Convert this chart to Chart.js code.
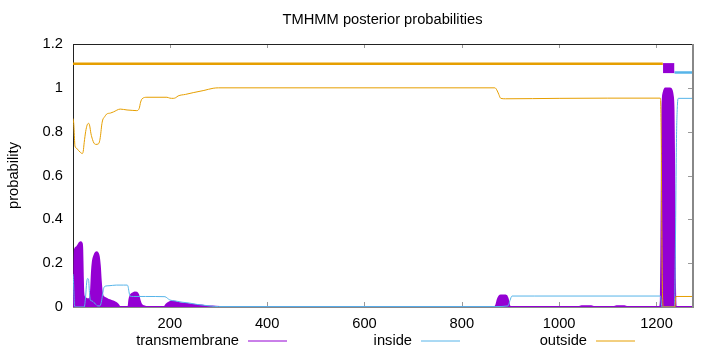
<!DOCTYPE html>
<html><head><meta charset="utf-8">
<script src="https://cdn.jsdelivr.net/npm/chart.js@4"></script>
<style>html,body{margin:0;padding:0;background:#fff}</style>
</head><body><canvas id="c" width="720" height="352"></canvas>
<script>
const titleText = 'TMHMM posterior probabilities';
const yAxisTitle = 'probability';
const seqLength = 1273;
const xTickValues = [200, 400, 600, 800, 1000, 1200];
const yTickValues = [0, 0.2, 0.4, 0.6, 0.8, 1, 1.2];
const seriesNames = ['transmembrane', 'inside', 'outside'];
const seriesColors = ['#9400d3', '#56b4e9', '#e69f00'];

// transmembrane posterior probability
const tmPos = [1,3,4,5,8,12,15,17,19,20,21,22,24,27,30,33,36,38,40,42,45,48,50,52,54,56,58,60,62,66,72,80,88,93,97,
  115,117,120,124,128,132,135,138,141,146,152,
  189,193,198,204,210,218,228,242,258,272,288,310,
  868,871,874,877,880,890,894,897,899,
  1040,1046,1066,1072,1112,1118,1134,1140,
  1207,1209,1210,1211,1212,1213,1215,1218,1228,1231,1233,1235,1236,1237,1238,1240,1273];
const tmProb = [0,0.02,0.2,0.262,0.272,0.283,0.293,0.295,0.29,0.26,0.15,0.07,0.045,0.04,0.035,0.035,0.04,0.07,0.16,0.21,0.235,0.248,0.25,0.245,0.23,0.19,0.12,0.07,0.05,0.042,0.035,0.028,0.02,0.012,0,
  0,0.035,0.055,0.062,0.066,0.065,0.055,0.03,0.012,0.004,0,
  0,0.012,0.02,0.025,0.024,0.018,0.015,0.012,0.008,0.004,0.002,0,
  0,0.01,0.035,0.048,0.052,0.052,0.04,0.01,0,
  0,0.003,0.003,0,0,0.003,0.003,0,
  0,0.03,0.25,0.6,0.88,0.95,0.98,0.997,0.997,0.99,0.97,0.9,0.7,0.4,0.1,0,0];

// inside posterior probability
const inPos = [1,2,3,4,6,24,27,29,31,33,35,37,40,44,48,52,56,59,62,64,67,75,90,105,112,114,116,118,125,150,190,195,200,210,225,240,255,270,285,300,
  870,895,899,903,950,1208,1210,1211,1237,1239,1241,1243,1245,1273];
const inProb = [0.15,0.12,0.06,0.01,0,0,0.05,0.11,0.13,0.125,0.06,0.03,0.028,0.02,0.012,0.005,0.005,0.02,0.06,0.085,0.095,0.097,0.1,0.1,0.1,0.095,0.07,0.05,0.048,0.048,0.047,0.04,0.032,0.028,0.022,0.018,0.012,0.008,0.004,0.002,
  0.002,0.005,0.03,0.05,0.05,0.05,0.02,0,0,0.3,0.75,0.92,0.952,0.952];

// outside posterior probability
const outPos = [1,2,3,4,5,8,12,16,20,22,24,27,30,33,35,38,41,44,48,53,56,58,60,62,66,70,78,84,98,112,124,132,137,140,143,153,194,200,207,212,217,232,248,270,289,300,
  868,872,876,880,890,1000,1100,1208,1209,1210,1211,1212,1213,1214,1238,1239,1240,1273];
const outProb = [0.86,0.85,0.82,0.77,0.735,0.725,0.715,0.706,0.70,0.71,0.75,0.80,0.83,0.838,0.83,0.79,0.765,0.748,0.742,0.744,0.76,0.79,0.83,0.853,0.868,0.88,0.885,0.89,0.903,0.899,0.897,0.896,0.906,0.935,0.95,0.957,0.957,0.953,0.952,0.955,0.963,0.97,0.978,0.988,0.998,1.0,
  1.0,0.99,0.97,0.952,0.95,0.952,0.953,0.953,0.9,0.7,0.35,0.1,0.02,0,0,0.03,0.048,0.048];

// predicted topology: [start, end] segments and their drawing levels
const topoOutside = [1, 1213];
const topoTM = [1214, 1236];
const topoInside = [1237, 1273];
const topoLevels = [1.11, 1.09, 1.07];

const FONT = '"Liberation Sans", Arial, Helvetica, sans-serif';
const FSIZE = 14.7;
Chart.defaults.font.family = FONT;
Chart.defaults.font.size = FSIZE;
Chart.defaults.color = '#000';

const pts = (xs, ys) => xs.map((x, i) => ({x: x, y: ys[i]}));
const seg = (s, lvl, pad) => [{x: s[0] - pad, y: lvl}, {x: s[1] + pad, y: lvl}];

const deco = {
  id: 'deco',
  beforeDatasetsDraw(chart) {
    const {ctx, chartArea: a, scales} = chart;
    ctx.save();
    ctx.strokeStyle = '#999';
    ctx.lineWidth = 1;
    ctx.beginPath();
    xTickValues.forEach(v => {
      const px = Math.round(scales.x.getPixelForValue(v)) + 0.5;
      ctx.moveTo(px, a.bottom - 5); ctx.lineTo(px, a.bottom);
      ctx.moveTo(px, a.top); ctx.lineTo(px, a.top + 4);
    });
    yTickValues.forEach(v => {
      const py = Math.round(scales.y.getPixelForValue(v)) + 0.5;
      ctx.moveTo(a.right - 4, py); ctx.lineTo(a.right, py);
    });
    ctx.stroke();
    ctx.fillStyle = '#222';
    ctx.fillRect(a.left, a.top, 1, a.bottom - a.top);
    ctx.fillRect(a.left, a.top, a.right - a.left, 1);
    ctx.fillStyle = '#888';
    ctx.fillRect(a.right, a.top, 2, a.bottom - a.top + 1);
    ctx.fillRect(a.left, a.bottom - 1, a.right - a.left + 2, 2);
    ctx.restore();
  },
  afterDraw(chart) {
    const {ctx, chartArea: a} = chart;
    ctx.save();
    ctx.font = FSIZE + 'px ' + FONT;
    ctx.fillStyle = '#000';
    ctx.textBaseline = 'middle';
    ctx.textAlign = 'center';
    ctx.fillText(titleText, (a.left + a.right) / 2, 20);
    const legendTextRight = [239, 412, 587];
    const ly = 341;
    seriesNames.forEach((n, i) => {
      ctx.textAlign = 'right';
      ctx.fillStyle = '#000';
      ctx.fillText(n, legendTextRight[i], ly);
      ctx.strokeStyle = seriesColors[i];
      ctx.lineWidth = 1;
      ctx.beginPath();
      ctx.moveTo(legendTextRight[i] + 9, ly);
      ctx.lineTo(legendTextRight[i] + 48, ly);
      ctx.stroke();
    });
    ctx.restore();
  }
};

new Chart(document.getElementById('c'), {
  type: 'line',
  data: {
    datasets: [
      {label: 'outside top', data: seg(topoOutside, topoLevels[0], 0), borderColor: seriesColors[2], borderWidth: 2.5, borderCapStyle: 'butt', order: 0},
      {label: 'TM box', data: seg(topoTM, topoLevels[1], 0.5), borderColor: seriesColors[0], borderWidth: 10, borderCapStyle: 'butt', order: 0},
      {label: 'inside top', data: seg(topoInside, topoLevels[2], 0), borderColor: seriesColors[1], borderWidth: 2.5, borderCapStyle: 'butt', order: 0},
      {label: seriesNames[2], data: pts(outPos, outProb), borderColor: seriesColors[2], borderWidth: 1, cubicInterpolationMode: 'monotone', order: 1},
      {label: seriesNames[1], data: pts(inPos, inProb), borderColor: seriesColors[1], borderWidth: 1, cubicInterpolationMode: 'monotone', order: 2},
      {label: seriesNames[0], data: pts(tmPos, tmProb), borderColor: seriesColors[0], backgroundColor: seriesColors[0], borderWidth: 2, borderJoinStyle: 'round', fill: 'origin', cubicInterpolationMode: 'monotone', order: 3}
    ]
  },
  options: {
    responsive: false,
    devicePixelRatio: 1,
    animation: false,
    events: [],
    elements: {point: {radius: 0}},
    layout: {padding: {top: 44, right: 28, bottom: 0, left: 0}},
    plugins: {legend: {display: false}, title: {display: false}, tooltip: {enabled: false}},
    scales: {
      x: {
        type: 'linear', min: 1, max: seqLength,
        afterBuildTicks: s => { s.ticks = xTickValues.map(v => ({value: v})); },
        afterFit: s => { s.height = 45; },
        grid: {display: false, drawTicks: false},
        border: {display: false},
        ticks: {padding: 8, maxRotation: 0, autoSkip: false, color: '#000', callback: v => String(v)}
      },
      y: {
        type: 'linear', min: 0, max: 1.2,
        afterBuildTicks: s => { s.ticks = yTickValues.map(v => ({value: v})); },
        afterFit: s => { s.width = 73; },
        grid: {display: false, drawTicks: false},
        border: {display: false},
        ticks: {padding: 10, color: '#000', callback: v => String(v)},
        title: {display: true, text: yAxisTitle, color: '#000', padding: {top: 5, bottom: 0}}
      }
    }
  },
  plugins: [deco]
});
</script></body></html>
